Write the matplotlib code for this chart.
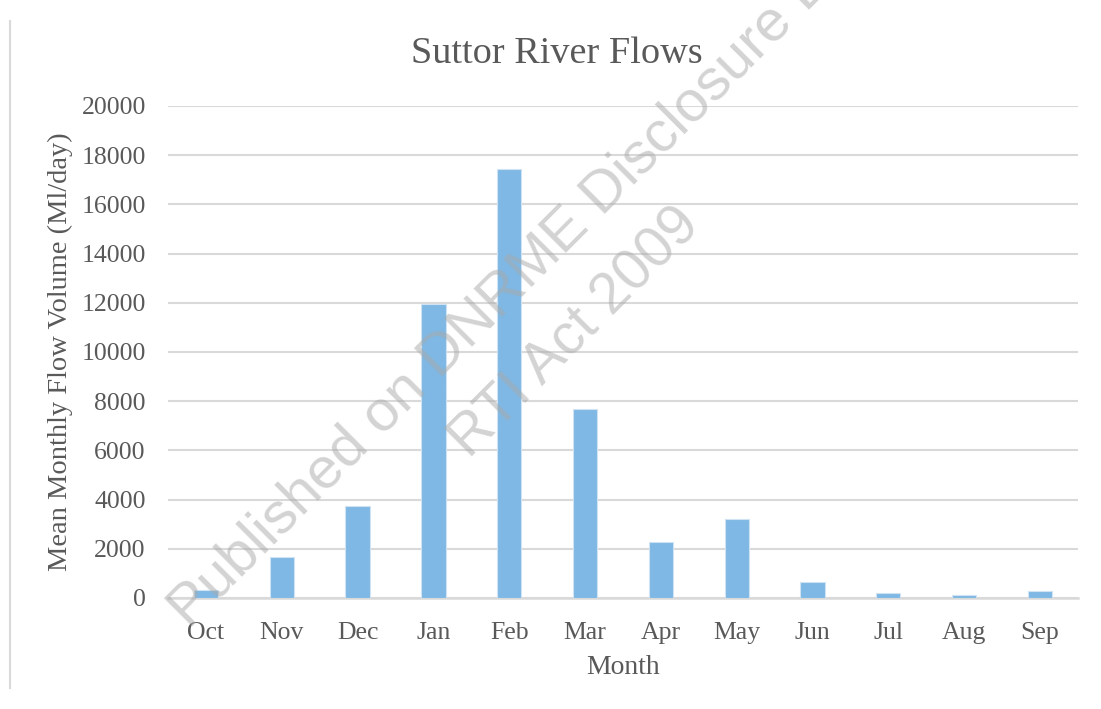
import matplotlib
matplotlib.use("Agg")
import matplotlib.pyplot as plt
from matplotlib.lines import Line2D

months = ["Oct", "Nov", "Dec", "Jan", "Feb", "Mar", "Apr", "May", "Jun", "Jul", "Aug", "Sep"]
flows = [330, 1660, 3750, 11950, 17430, 7670, 2280, 3220, 640, 190, 140, 270]
y_ticks = [0, 2000, 4000, 6000, 8000, 10000, 12000, 14000, 16000, 18000, 20000]

text_color = "#595959"
grid_color = "#d9d9d9"
bar_color = "#7fb8e4"
serif = ["Liberation Serif", "DejaVu Serif"]

fig = plt.figure(figsize=(11.01, 7.09), dpi=100)
ax = fig.add_axes([0.1526, 0.1566, 0.8264, 0.6939])

x = range(len(months))
ax.bar(x, flows, width=0.32, color=bar_color, edgecolor="#cfe3f4", linewidth=0.8, zorder=3)

ax.set_ylim(0, 20000)
ax.set_xlim(-0.5, len(months) - 0.5)
ax.set_yticks(y_ticks)
ax.set_yticklabels([str(v) for v in y_ticks])
ax.set_xticks(list(x))
ax.set_xticklabels(months)
ax.tick_params(axis="both", length=0, labelsize=18.5, labelcolor=text_color)
ax.tick_params(axis="x", pad=17)
ax.tick_params(axis="y", pad=16)
for lbl in ax.get_xticklabels() + ax.get_yticklabels():
    lbl.set_family(serif)

ax.grid(axis="y", color=grid_color, linewidth=1.5, zorder=0)
for side in ["top", "right", "left"]:
    ax.spines[side].set_visible(False)
ax.spines["bottom"].set_color(grid_color)
ax.spines["bottom"].set_linewidth(1.8)

ax.set_xlabel("Month", fontsize=20, color=text_color, family=serif, labelpad=8)
ax.set_ylabel("Mean Monthly Flow Volume (Ml/day)", fontsize=20.5, color=text_color,
              family=serif, labelpad=6)
fig.text(0.506, 0.911, "Suttor River Flows", ha="center", va="baseline",
         fontsize=27.5, color=text_color, family=serif)

# page border on the left
fig.add_artist(Line2D([0.0095, 0.0095], [0.03, 0.97], color="#d9d9d9", linewidth=1.5))

# watermark
wm = dict(rotation=45, rotation_mode="anchor", ha="left", va="baseline",
          color="#a8a8a8", alpha=0.5, family="Liberation Sans", zorder=10)
fig.text(0.172, 0.1125, "Published on DNRME Disclosure Log", fontsize=42, **wm)
fig.text(0.427, 0.351, "RTI Act 2009", fontsize=41, **wm)

fig.savefig("out.png", dpi=100)
